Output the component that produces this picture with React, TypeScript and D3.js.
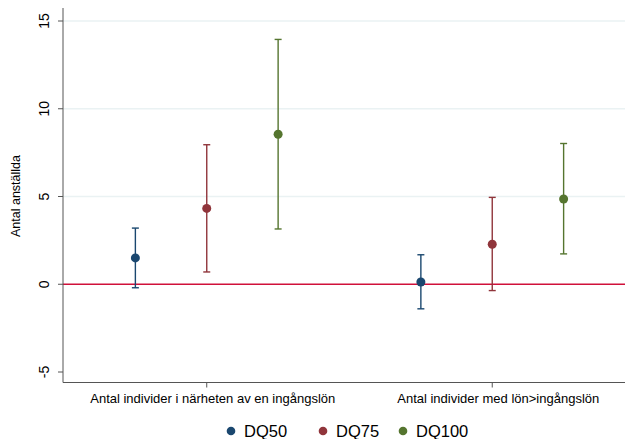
import React from "react"
import * as d3 from "d3"

const series = ["DQ50", "DQ75", "DQ100"]
const colors = ["#1a476f", "#90353b", "#55752f"]
const groups = ["Antal individer i närheten av en ingångslön", "Antal individer med lön>ingångslön"]
// x positions of the points (linear x axis), and of the group labels
const xPos = [[1, 2, 3], [5, 6, 7]]
const groupTickPos = [2, 6]
const est = [[1.5, 4.32, 8.55], [0.13, 2.28, 4.86]]
const lo = [[-0.2, 0.7, 3.15], [-1.4, -0.36, 1.73]]
const hi = [[3.2, 7.95, 13.95], [1.68, 4.95, 8.02]]
const yTicks = [-5, 0, 5, 10, 15]
const gridTicks = [5, 10, 15]

const W = 625, H = 439
const margin = {top: 0, right: 0, bottom: 56, left: 63}
const font = "Arial, 'Liberation Sans', sans-serif"

const App = () => {
    const x = d3.scaleLinear().domain([0, 7.86]).range([margin.left + 1, W - margin.right])
    const y = d3.scaleLinear().domain([-5, 15]).range([372, 21])
    const axisY = 382.5

    return (
        <svg width={W} height={H} style={{position: "absolute", left: 0, top: 0, background: "#fff"}}>
            {/* gridlines */}
            {gridTicks.map(t => (
                <line key={t} x1={margin.left} x2={W} y1={y(t)} y2={y(t)} stroke="#eaf2f3" strokeWidth={1.5}/>
            ))}
            {/* zero line */}
            <line x1={margin.left} x2={W} y1={y(0)} y2={y(0)} stroke="#d0103a" strokeWidth={1.3}/>

            {/* axes */}
            <line x1={margin.left} x2={margin.left} y1={8} y2={axisY} stroke="#555" strokeWidth={1}/>
            <line x1={margin.left} x2={W} y1={axisY} y2={axisY} stroke="#555" strokeWidth={1}/>
            {yTicks.map(t => (
                <g key={t}>
                    <line x1={margin.left - 5} x2={margin.left} y1={y(t)} y2={y(t)} stroke="#555"/>
                    <text transform={`translate(49,${y(t)}) rotate(-90)`} textAnchor="middle"
                          fontFamily={font} fontSize={14} fill="#000">{t}</text>
                </g>
            ))}
            <text transform={`translate(20,196) rotate(-90)`} textAnchor="middle"
                  fontFamily={font} fontSize={12.5} fill="#000">Antal anställda</text>

            {groups.map((g, i) => (
                <g key={g}>
                    <line x1={x(groupTickPos[i])} x2={x(groupTickPos[i])} y1={axisY} y2={axisY + 5} stroke="#555"/>
                    <text x={x(groupTickPos[i]) + 6} y={axisY + 20} textAnchor="middle"
                          fontFamily={font} fontSize={13} fill="#000">{g}</text>
                </g>
            ))}

            {/* error bars and points */}
            {groups.map((g, i) => series.map((s, j) => {
                const cx = x(xPos[i][j])
                return (
                    <g key={g + s} stroke={colors[j]} strokeWidth={1.4}>
                        <line x1={cx} x2={cx} y1={y(lo[i][j])} y2={y(hi[i][j])}/>
                        <line x1={cx - 3.5} x2={cx + 3.5} y1={y(lo[i][j])} y2={y(lo[i][j])}/>
                        <line x1={cx - 3.5} x2={cx + 3.5} y1={y(hi[i][j])} y2={y(hi[i][j])}/>
                        <circle cx={cx} cy={y(est[i][j])} r={4.5} fill={colors[j]} stroke="none"/>
                    </g>
                )
            }))}

            {/* legend */}
            {series.map((s, j) => {
                const lx = [231, 323, 403][j]
                return (
                    <g key={s}>
                        <circle cx={lx} cy={431} r={4.3} fill={colors[j]}/>
                        <text x={lx + 13} y={437} fontFamily={font} fontSize={16.5} fill="#000">{s}</text>
                    </g>
                )
            })}
        </svg>
    )
}

export default App
